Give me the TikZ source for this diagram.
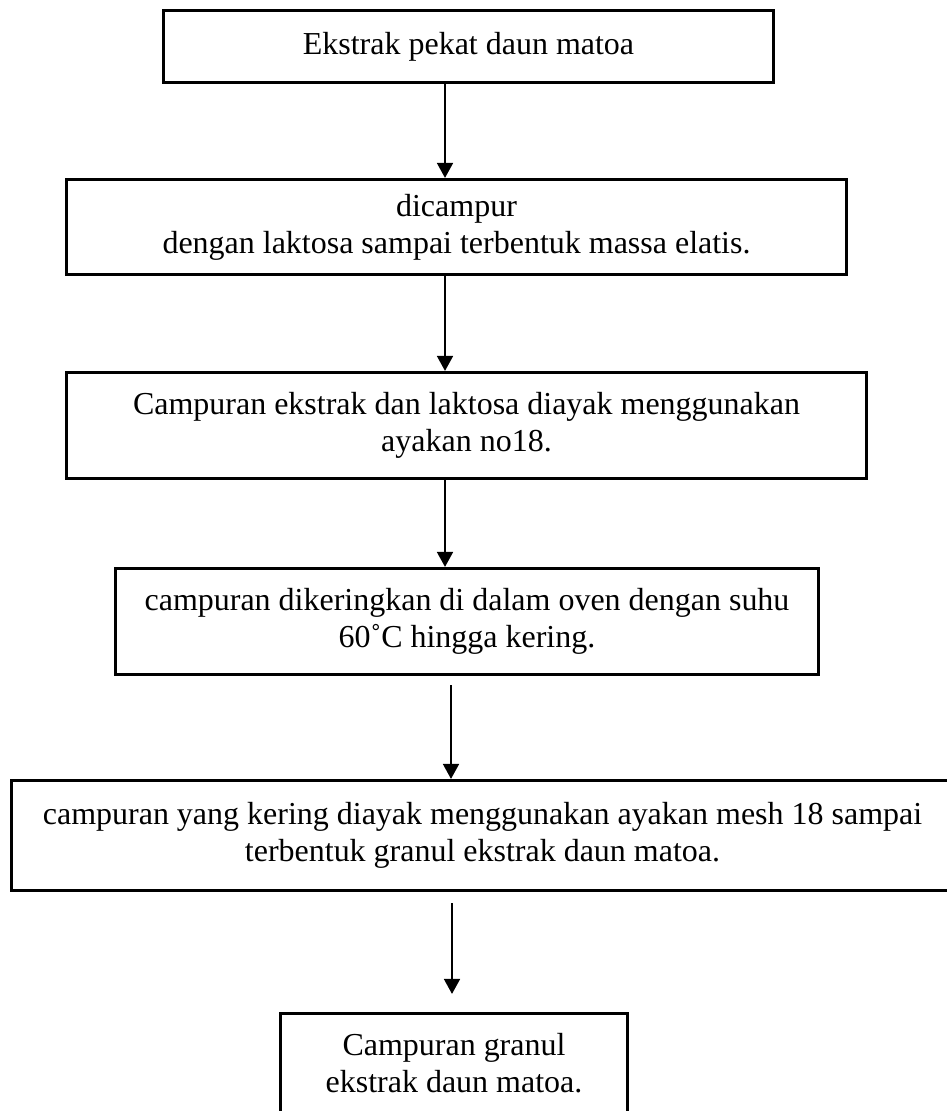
\documentclass[tikz,border=0pt]{standalone}
\usepackage{fontspec}
\setmainfont{Liberation Serif}
\usetikzlibrary{arrows.meta,positioning}

\begin{document}
\begin{tikzpicture}[x=0.1mm, y=-0.1mm,
  box/.style={rectangle, draw=black, line width=0.9pt, fill=white,
    font=\fontsize{9.1}{10.6}\selectfont, align=center, inner sep=0pt},
  arr/.style={-{Triangle[length=1.5mm, width=1.6mm]}, line width=0.5pt, color=black}
]
\useasboundingbox (0,0) rectangle (947,1111);
\clip (0,0) rectangle (947,1111);
\node[box, minimum width=61.0mm, minimum height=7.2mm] (b1) at (468.5,46.5) {Ekstrak pekat daun matoa};
\node[box, minimum width=78.0mm, minimum height=9.5mm] (b2) at (456.5,227) {dicampur\\dengan laktosa sampai terbentuk massa elatis.};
\node[box, minimum width=80.0mm, minimum height=10.6mm] (b3) at (466.5,425.5) {Campuran ekstrak dan laktosa diayak menggunakan\\ayakan no18.};
\node[box, minimum width=70.3mm, minimum height=10.6mm] (b4) at (467,621.5) {campuran dikeringkan di dalam oven dengan suhu\\60˚C hingga kering.};
\node[box, minimum width=94.2mm, minimum height=11.0mm] (b5) at (482.5,835.5) {campuran yang kering diayak menggunakan ayakan mesh 18 sampai\\terbentuk granul ekstrak daun matoa.};
\node[box, minimum width=34.7mm, minimum height=9.9mm] (b6) at (454,1063) {Campuran granul\\ekstrak daun matoa.};
\coordinate (ax) at (445,0);
\coordinate (c4) at (451,685);
\coordinate (c5) at (452,903);
\draw[arr] (b1.south -| ax) -- (b2.north -| ax);
\draw[arr] (b2.south -| ax) -- (b3.north -| ax);
\draw[arr] (b3.south -| ax) -- (b4.north -| ax);
\draw[arr] (c4) -- (c4 |- b5.north);
\draw[arr, shorten >=1.8mm] (c5) -- (c5 |- b6.north);
\end{tikzpicture}
\end{document}
